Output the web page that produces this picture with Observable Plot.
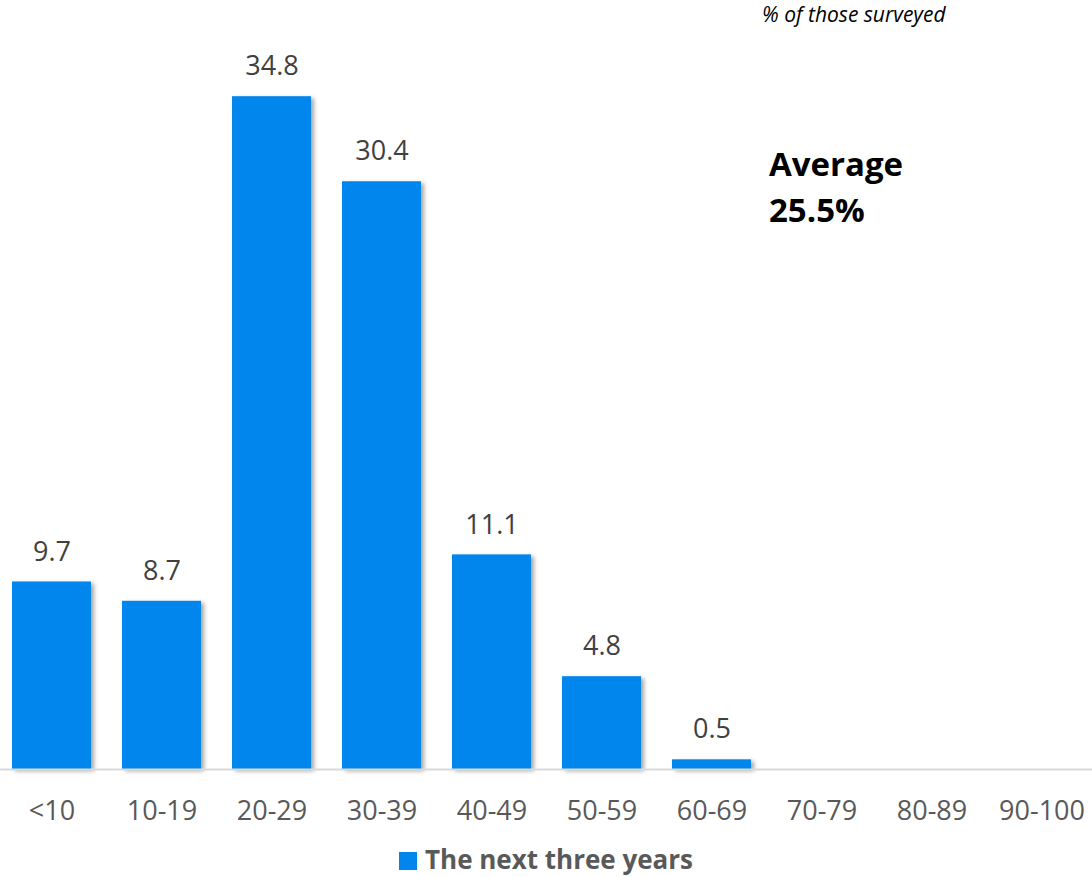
<!DOCTYPE html>
<html>
<head>
<meta charset="utf-8">
<script src="https://cdn.jsdelivr.net/npm/d3@7"></script>
<script src="https://cdn.jsdelivr.net/npm/@observablehq/plot@0.6"></script>
<style>
  body { margin: 0; background: #fff; font-family: "Open Sans", sans-serif; }
  #wrap { position: relative; width: 1092px; height: 877px; }
  #sub { position: absolute; left: 762px; top: 0px; font-style: italic; font-size: 21px; color: #000; }
  #avg { position: absolute; left: 769px; top: 141px; font-weight: 700; font-size: 33px; line-height: 46px; color: #000; }
  #chart { position: absolute; left: 0; top: 30px; }
  #legend { position: absolute; left: 0; width: 1092px; top: 841px; text-align: center; font-weight: 700; font-size: 26px; color: #595959; }
  #legend .sw { display: inline-block; width: 18px; height: 18px; background: #0086ec; margin-right: 8px; vertical-align: -1px; }
  .bars { filter: drop-shadow(3px 2px 2px rgba(0,0,0,0.35)); }
</style>
</head>
<body>
<div id="wrap">
  <div id="sub">% of those surveyed</div>
  <div id="chart"></div>
  <div id="avg">Average<br>25.5%</div>
  <div id="legend"><span class="sw"></span>The next three years</div>
</div>
<script>
// Share of respondents by expected range, next three years
const categories = ["<10", "10-19", "20-29", "30-39", "40-49", "50-59", "60-69", "70-79", "80-89", "90-100"];
const values = [9.7, 8.7, 34.8, 30.4, 11.1, 4.8, 0.5, null, null, null];

const data = categories.map((c, i) => ({category: c, value: values[i]}));
const shown = data.filter(d => d.value != null);

const chart = Plot.plot({
  width: 1092,
  height: 800,
  marginLeft: 0,
  marginRight: 0,
  marginTop: 43,
  marginBottom: 61,
  style: {fontFamily: "Open Sans", fontSize: "27px", background: "transparent"},
  x: {domain: categories, range: [-3, 1097], paddingInner: 0.28, paddingOuter: 0.14, label: null},
  y: {domain: [0, 36], axis: null},
  marks: [
    Plot.barY(shown, {x: "category", y: "value", fill: "#0086ec", className: "bars"}),
    Plot.ruleY([0], {stroke: "#d9d9d9", strokeWidth: 2}),
    Plot.text(shown, {x: "category", y: "value", text: d => d.value.toFixed(1), dy: -30, fill: "#404040", fontSize: 27}),
    Plot.axisX({tickSize: 0, tickPadding: 31, fill: "#595959", fontSize: 27})
  ]
});
document.getElementById("chart").appendChild(chart);
</script>
</body>
</html>
